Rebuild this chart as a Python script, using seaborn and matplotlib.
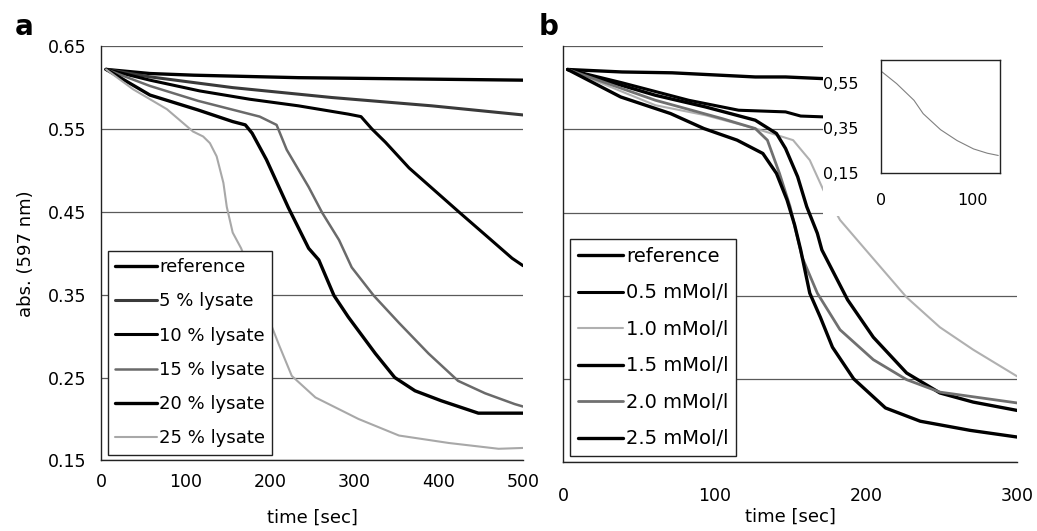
from matplotlib import pyplot as plt
from matplotlib.patches import Rectangle
import seaborn as sns

# Panel a: lysate series (time in sec, absorbance at 597 nm)
t_ref_a = [6, 58, 110, 234, 500]
y_ref_a = [0.622, 0.617, 0.615, 0.612, 0.609]
t_5 = [6, 58, 156, 274, 392, 500]
y_5 = [0.622, 0.613, 0.600, 0.588, 0.578, 0.567]
t_10 = [6, 58, 117, 176, 234, 293, 308, 321, 337, 365, 395, 425, 460, 487, 500]
y_10 = [0.622, 0.609, 0.596, 0.586, 0.578, 0.568, 0.565, 0.550, 0.534, 0.503,
        0.476, 0.449, 0.418, 0.394, 0.385]
t_15 = [6, 58, 115, 188, 208, 220, 246, 262, 282, 297, 323, 353, 388, 423, 455, 490, 500]
y_15 = [0.622, 0.602, 0.584, 0.565, 0.555, 0.525, 0.480, 0.449, 0.416, 0.383,
        0.349, 0.316, 0.279, 0.246, 0.231, 0.218, 0.215]
t_20 = [6, 58, 115, 156, 171, 179, 196, 222, 246, 258, 276, 293, 325, 348, 372, 403, 447, 500]
y_20 = [0.622, 0.591, 0.573, 0.559, 0.555, 0.545, 0.513, 0.455, 0.406, 0.392,
        0.349, 0.323, 0.279, 0.250, 0.234, 0.222, 0.207, 0.207]
t_25 = [6, 38, 78, 109, 121, 129, 137, 145, 149, 156, 166, 211, 226, 254, 305, 353, 412, 471, 500]
y_25 = [0.622, 0.598, 0.574, 0.547, 0.541, 0.533, 0.517, 0.485, 0.456, 0.425,
        0.406, 0.289, 0.252, 0.226, 0.200, 0.180, 0.171, 0.164, 0.165]

# Panel b: concentration series
t_ref_b = [3, 39, 72, 127, 147, 172, 300]
y_ref_b = [0.622, 0.619, 0.618, 0.613, 0.613, 0.611, 0.610]
t_05 = [3, 39, 83, 116, 147, 157, 172, 300]
y_05 = [0.622, 0.606, 0.585, 0.573, 0.571, 0.566, 0.565, 0.565]
t_10m = [3, 61, 94, 127, 145, 152, 163, 172, 183, 200, 227, 249, 271, 300]
y_10m = [0.622, 0.579, 0.567, 0.551, 0.541, 0.537, 0.513, 0.477, 0.441, 0.405,
         0.348, 0.312, 0.285, 0.253]
t_15m = [3, 61, 94, 127, 141, 147, 155, 161, 168, 171, 188, 205, 227, 249, 271, 300]
y_15m = [0.622, 0.591, 0.577, 0.561, 0.545, 0.527, 0.493, 0.457, 0.425, 0.405,
         0.345, 0.300, 0.257, 0.233, 0.222, 0.212]
t_20m = [3, 61, 105, 127, 135, 143, 150, 158, 168, 183, 205, 227, 249, 300]
y_20m = [0.622, 0.585, 0.563, 0.551, 0.537, 0.497, 0.457, 0.396, 0.353, 0.309,
         0.273, 0.249, 0.234, 0.221]
t_25m = [3, 38, 71, 93, 115, 132, 141, 148, 153, 157, 163, 170, 178, 192, 213, 236, 269, 300]
y_25m = [0.622, 0.589, 0.569, 0.551, 0.537, 0.521, 0.497, 0.465, 0.435, 0.405,
         0.353, 0.324, 0.288, 0.250, 0.215, 0.199, 0.188, 0.180]

# Inset
t_ins = [1, 17, 36, 46, 65, 83, 101, 116, 128]
y_ins = [0.599, 0.547, 0.473, 0.414, 0.343, 0.295, 0.258, 0.239, 0.229]

labels_a = ['reference', '5 % lysate', '10 % lysate', '15 % lysate', '20 % lysate', '25 % lysate']
labels_b = ['reference', '0.5 mMol/l', '1.0 mMol/l', '1.5 mMol/l', '2.0 mMol/l', '2.5 mMol/l']
y_ticks = [0.15, 0.25, 0.35, 0.45, 0.55, 0.65]

sns.set_style('white')
plt.rcParams['font.family'] = ['DejaVu Sans']
plt.rcParams['text.color'] = 'black'
plt.rcParams['axes.labelcolor'] = 'black'
plt.rcParams['xtick.labelcolor'] = 'black'
plt.rcParams['ytick.labelcolor'] = 'black'

fig = plt.figure(figsize=(10.37, 5.31), dpi=100)
ax_a = fig.add_axes([0.0974, 0.133, 0.407, 0.780])
ax_b = fig.add_axes([0.543, 0.130, 0.4378, 0.783])

series_a = [(t_ref_a, y_ref_a), (t_5, y_5), (t_10, y_10), (t_15, y_15), (t_20, y_20), (t_25, y_25)]
series_b = [(t_ref_b, y_ref_b), (t_05, y_05), (t_10m, y_10m), (t_15m, y_15m), (t_20m, y_20m), (t_25m, y_25m)]
styles_a = [('black', 2.4), ('#3a3a3a', 2.2), ('black', 2.2), ('#6a6a6a', 1.8), ('black', 2.4), ('#a8a8a8', 1.5)]
styles_b = [('black', 2.4), ('black', 2.2), ('#b0b0b0', 1.5), ('black', 2.4), ('#707070', 2.0), ('black', 2.4)]

for ax, series, styles, labels, xmax, xticks, xpad, lspace, lfont in [
        (ax_a, series_a, styles_a, labels_a, 500, [0, 100, 200, 300, 400, 500], 4, 0.9, 13),
        (ax_b, series_b, styles_b, labels_b, 300, [0, 100, 200, 300], 13, 0.9, 14)]:
    for (t, y), (c, lw), lab in zip(series, styles, labels):
        sns.lineplot(x=t, y=y, ax=ax, color=c, linewidth=lw, label=lab)
    ax.set_xlim(0, xmax)
    ax.set_ylim(0.15, 0.65)
    ax.set_xticks(xticks)
    ax.set_yticks(y_ticks)
    ax.yaxis.grid(True, color='#5a5a5a', linewidth=0.9)
    ax.set_axisbelow(True)
    sns.despine(ax=ax, top=True, right=True)
    for s in ['left', 'bottom']:
        ax.spines[s].set_color('#222222')
        ax.spines[s].set_linewidth(1.0)
    ax.tick_params(axis='x', direction='out', length=5, width=1, color='#222222', labelsize=12.5, pad=xpad)
    ax.tick_params(axis='y', direction='inout', length=7, width=1, color='#222222', labelsize=12.5, pad=7)
    leg = ax.legend(loc='lower left', bbox_to_anchor=(0.016, 0.014), borderaxespad=0,
                    fancybox=False, framealpha=1, edgecolor='#222222', fontsize=lfont,
                    handlelength=2.3, handletextpad=0.15, labelspacing=lspace,
                    borderpad=0.4)
    leg.get_frame().set_linewidth(1.0)

ax_a.set_xlabel('time [sec]', fontsize=13, labelpad=13)
ax_b.set_xlabel('time [sec]', fontsize=13, labelpad=2)
ax_a.yaxis.set_major_formatter(plt.FuncFormatter(lambda v, p: f'{v:.2f}'))
ax_a.set_ylabel('abs. (597 nm)', fontsize=13, labelpad=9)
ax_b.set_yticklabels([])
ax_b.set_ylabel('')

# white area behind the inset
fig.add_artist(Rectangle((0.7936, 0.593), 0.21, 0.335, transform=fig.transFigure,
                         facecolor='white', edgecolor='none', zorder=1.5))

ax_in = fig.add_axes([0.8496, 0.6736, 0.1148, 0.2128])
ax_in.set_zorder(2)
sns.lineplot(x=t_ins, y=y_ins, ax=ax_in, color='#808080', linewidth=0.8)
ax_in.set_xlim(0, 130)
ax_in.set_ylim(0.15, 0.65)
ax_in.set_xticks([0, 100])
ax_in.set_yticks([0.15, 0.35, 0.55])
ax_in.set_yticklabels(['0,15', '0,35', '0,55'])
ax_in.tick_params(axis='y', direction='out', length=4, width=1, color='#222222', labelsize=11.5, pad=12)
ax_in.tick_params(axis='x', direction='in', length=4, width=1, color='#222222', labelsize=11.5, pad=14)
for s in ax_in.spines.values():
    s.set_color('#222222')
    s.set_linewidth(1.0)

fig.text(0.0145, 0.934, 'a', fontsize=20, fontweight='bold', va='baseline')
fig.text(0.519, 0.934, 'b', fontsize=20, fontweight='bold', va='baseline')

plt.savefig('out.png', dpi=100)
